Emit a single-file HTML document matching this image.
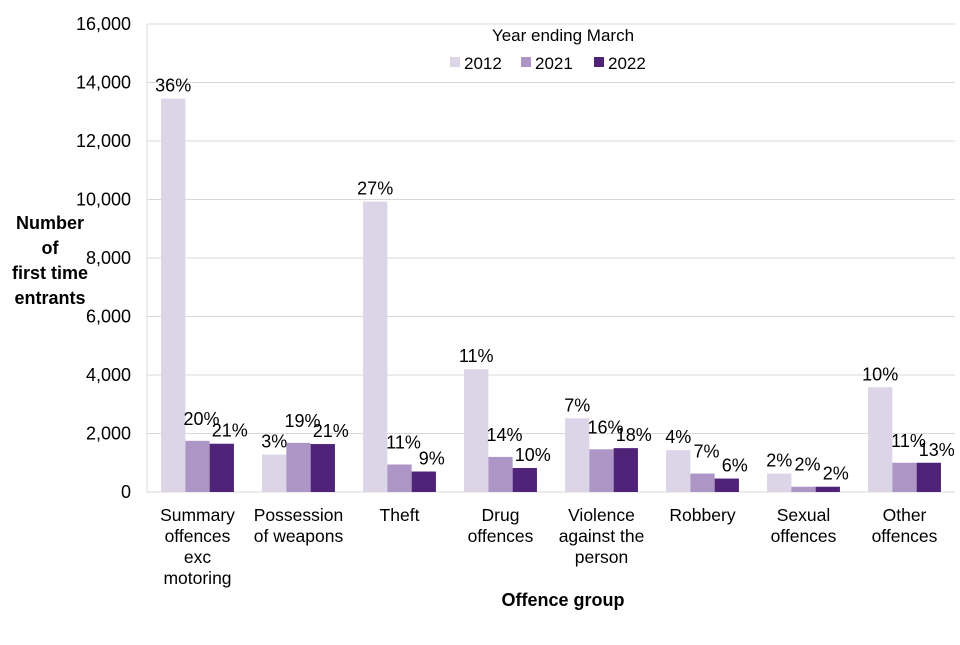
<!DOCTYPE html>
<html><head><meta charset="utf-8"><style>
body{margin:0;background:#fff;font-family:"Liberation Sans",Arial,sans-serif}
svg text{font-family:"Liberation Sans",Arial,sans-serif}
</style></head><body>
<svg id="chart" width="960" height="640"></svg>
<script>
const categories=[["Summary","offences","exc","motoring"],["Possession","of weapons"],["Theft"],["Drug","offences"],["Violence","against the","person"],["Robbery"],["Sexual","offences"],["Other","offences"]];
const seriesNames=["2012","2021","2022"];
const values2012=[13450,1280,9930,4200,2520,1430,630,3580];
const values2021=[1750,1680,940,1200,1460,630,180,1000];
const values2022=[1650,1640,700,820,1500,460,180,1000];
const pct2012=["36%","3%","27%","11%","7%","4%","2%","10%"];
const pct2021=["20%","19%","11%","14%","16%","7%","2%","11%"];
const pct2022=["21%","21%","9%","10%","18%","6%","2%","13%"];
const yTicks=[0,2000,4000,6000,8000,10000,12000,14000,16000];
const colors=["#dcd5e8","#ad95c6","#4f2478"];
const NS="http://www.w3.org/2000/svg";
const svg=document.getElementById('chart');
const L=147,R=955,T=24,B=492,yMax=16000;
const y=v=>B-(v/yMax)*(B-T);
const gw=(R-L)/categories.length,bw=24.3,off=(gw-3*bw)/2;
const x=(i,s)=>L+i*gw+off+s*bw;
function el(t,a,txt){const e=document.createElementNS(NS,t);for(const k in a)e.setAttribute(k,a[k]);if(txt!=null)e.textContent=txt;svg.appendChild(e);return e;}
yTicks.forEach(v=>{
 const g=el('line',{x1:L,x2:R,y1:y(v),y2:y(v),stroke:'#d9d9d9','stroke-width':1});
 
 
 const t=el('text',{x:131,y:y(v)+6,'text-anchor':'end','font-size':18,fill:'#000'},v.toLocaleString('en-US'));
 
 
});
const ax=el('line',{x1:L,x2:L,y1:T,y2:B,stroke:'#d9d9d9'});


const series=[values2012,values2021,values2022],pcts=[pct2012,pct2021,pct2022];
const lift=[7,16,7];
categories.forEach((c,i)=>{
 series.forEach((vals,s)=>{
  const r=el('rect',{x:x(i,s),y:y(vals[i]),width:bw,height:B-y(vals[i]),fill:colors[s]});
  
  
  const cx=x(i,s)+bw/2+(s==2?8:(s==1?4:0));
  const t=el('text',{x:cx,y:y(vals[i])-lift[s],'text-anchor':'middle','font-size':18},pcts[s][i]);
  
  
 });
 c.forEach((ln,k)=>{
  const t=el('text',{x:L+i*gw+gw/2,y:521+k*21,'text-anchor':'middle','font-size':17.5},ln);
  
  
 });
});
["Number","of","first time","entrants"].forEach((ln,k)=>{
 const t=el('text',{x:50,y:229+k*25,'text-anchor':'middle','font-size':18,'font-weight':'bold'},ln);
 
 
});
const xt=el('text',{x:563,y:606,'text-anchor':'middle','font-size':18,'font-weight':'bold'},"Offence group");


const lt=el('text',{x:563,y:41,'text-anchor':'middle','font-size':17},"Year ending March");


const lx=[450,521,594];
seriesNames.forEach((n,s)=>{
 const r=el('rect',{x:lx[s],y:57,width:10,height:10,fill:colors[s]});
 
 
 const t=el('text',{x:lx[s]+14,y:69,'font-size':17},n);
 
 
});
</script>
</body></html>
